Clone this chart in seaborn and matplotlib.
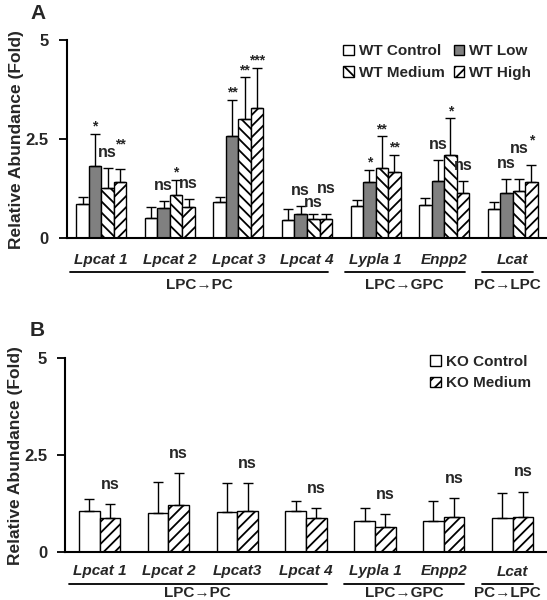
import numpy as np
import pandas as pd
import matplotlib
matplotlib.use("Agg")
import matplotlib.pyplot as plt
import matplotlib.transforms as mtransforms
import seaborn as sns

sns.set_style("ticks")
plt.rcParams['font.family'] = ['Liberation Sans', 'DejaVu Sans']
plt.rcParams['font.weight'] = 'bold'
plt.rcParams['hatch.linewidth'] = 1.3

# 数据
genes_a = ["Lpcat 1", "Lpcat 2", "Lpcat 3", "Lpcat 4", "Lypla 1", "Enpp2", "Lcat"]
genes_b = ["Lpcat 1", "Lpcat 2", "Lpcat3", "Lpcat 4", "Lypla 1", "Enpp2", "Lcat"]

groups_a = ["WT Control", "WT Low", "WT Medium", "WT High"]
wt_control = [0.86, 0.50, 0.92, 0.45, 0.81, 0.83, 0.73]
wt_low = [1.82, 0.77, 2.58, 0.60, 1.42, 1.44, 1.13]
wt_medium = [1.26, 1.10, 3.00, 0.48, 1.78, 2.10, 1.20]
wt_high = [1.42, 0.78, 3.30, 0.48, 1.68, 1.13, 1.42]
wt_control_err = [0.17, 0.29, 0.12, 0.29, 0.16, 0.18, 0.19]
wt_low_err = [0.81, 0.17, 0.92, 0.21, 0.30, 0.53, 0.37]
wt_medium_err = [0.51, 0.38, 1.06, 0.12, 0.79, 0.93, 0.30]
wt_high_err = [0.32, 0.20, 1.00, 0.14, 0.42, 0.31, 0.43]
sig_low = ["*", "ns", "**", "ns", "*", "ns", "ns"]
sig_medium = ["ns", "*", "**", "ns", "**", "*", "ns"]
sig_high = ["**", "ns", "***", "ns", "**", "ns", "*"]

groups_b = ["KO Control", "KO Medium"]
ko_control = [1.05, 1.00, 1.03, 1.06, 0.80, 0.80, 0.87]
ko_medium = [0.88, 1.21, 1.05, 0.88, 0.64, 0.90, 0.90]
ko_control_err = [0.31, 0.80, 0.74, 0.25, 0.33, 0.51, 0.66]
ko_medium_err = [0.36, 0.82, 0.73, 0.25, 0.33, 0.50, 0.66]
sig_ko = ["ns"] * 7

# 代谢途径分组
pathways = ["LPC→PC", "LPC→GPC", "PC→LPC"]
pathway_span = [(0, 3), (4, 5), (6, 6)]

df_a = pd.DataFrame({
    "gene": genes_a * 4,
    "group": np.repeat(groups_a, len(genes_a)),
    "value": wt_control + wt_low + wt_medium + wt_high,
})
df_b = pd.DataFrame({
    "gene": genes_b * 2,
    "group": np.repeat(groups_b, len(genes_b)),
    "value": ko_control + ko_medium,
})

fig = plt.figure(figsize=(5.47, 6.0), dpi=100)
ax_a = fig.add_axes([0.1225, 0.603, 0.8775, 0.33])
ax_b = fig.add_axes([0.119, 0.08, 0.881, 0.323])

# 显著性标记的大致高度（数据单位）
mark_h = {"ns": 0.25, "*": 0.18, "**": 0.18, "***": 0.18}


def place_marks(ax, xs_all, tops_all, sigs_all, ns_pad, star_pad):
    # 同一基因内相邻标记重叠时上下错开
    n_genes = len(xs_all[0])
    for g in range(n_genes):
        prev = None
        for xs, tops, sig in zip(xs_all, tops_all, sigs_all):
            s = sig[g]
            c = tops[g] + (ns_pad if s == "ns" else star_pad)
            if prev is not None:
                pc, ps = prev
                thr = (mark_h[ps] + mark_h[s]) / 2 + 0.05
                if abs(c - pc) < thr:
                    if c < pc and pc - thr >= tops[g] + 0.22:
                        c = pc - thr
                    else:
                        c = pc + thr + 0.06
            base = c - (0.1 if s == "ns" else 0.2)
            ax.text(xs[g], base, s, ha="center", va="baseline",
                    fontsize=11.5 if s == "ns" else 10, fontweight="bold")
            prev = (c, s)


def draw_panel(ax, df, groups, colors, hatches, errs, sigs, ns_pad, star_pad,
               width, tick_pad, line_y, label_y, legend_order, legend_anchor,
               ncol):
    sns.barplot(data=df, x="gene", y="value", hue="group", hue_order=groups,
                palette=colors, edgecolor="black", linewidth=1.0, width=width,
                errorbar=None, legend=False, ax=ax)
    bars = list(ax.containers)
    xs_all, tops_all, sigs_all = [], [], []
    for cont, hatch, err, sig in zip(bars, hatches, errs, sigs):
        xs = [p.get_x() + p.get_width() / 2 for p in cont]
        hs = [p.get_height() for p in cont]
        for p in cont:
            p.set_hatch(hatch)
        ax.errorbar(xs, hs, yerr=[np.zeros(len(err)), err], fmt="none",
                    ecolor="black", elinewidth=1.0, capsize=3.5, capthick=1.0,
                    zorder=1)
        if sig is not None:
            xs_all.append(xs)
            tops_all.append([h + e for h, e in zip(hs, err)])
            sigs_all.append(sig)
    place_marks(ax, xs_all, tops_all, sigs_all, ns_pad, star_pad)

    ax.set_ylim(0, 5)
    ax.set_xlim(-0.5, 6.5)
    ax.set_yticks([0, 2.5, 5])
    ax.set_yticklabels(["0", "2.5", "5"], fontsize=12, fontweight="bold")
    ax.set_xlabel("")
    ax.set_ylabel("Relative Abundance (Fold)", fontsize=12.5,
                  fontweight="bold", labelpad=1)
    ax.tick_params(axis="y", length=6, width=1.3, pad=7, color="black")
    ax.tick_params(axis="x", length=0, pad=tick_pad)
    for lab in ax.get_xticklabels():
        lab.set_fontstyle("italic")
        lab.set_fontweight("bold")
        lab.set_fontsize(11)
    sns.despine(ax=ax)
    for side in ["left", "bottom"]:
        ax.spines[side].set_linewidth(1.5)
        ax.spines[side].set_color("black")

    trans = mtransforms.blended_transform_factory(ax.transData, ax.transAxes)
    for name, (i0, i1) in zip(pathways, pathway_span):
        x0, x1 = i0 - 0.45, i1 + 0.3
        ax.plot([x0, x1], [line_y, line_y], color="black", lw=1.3,
                transform=trans, clip_on=False)
        ax.text((x0 + x1) / 2, label_y, name, transform=trans, ha="center",
                va="center", fontsize=11, fontweight="bold")

    handles = [bars[i] for i in legend_order]
    labels = [groups[i] for i in legend_order]
    ax.legend(handles, labels, ncol=ncol, frameon=False, loc="upper left",
              bbox_to_anchor=legend_anchor, handlelength=0.7,
              handleheight=0.7, handletextpad=0.3, columnspacing=0.6,
              labelspacing=0.5, borderaxespad=0,
              prop={"size": 11, "weight": "bold"})


draw_panel(ax_a, df_a, groups_a, ["white", "#808080", "white", "white"],
           ["", "", "\\\\\\", "///"],
           [wt_control_err, wt_low_err, wt_medium_err, wt_high_err],
           [None, sig_low, sig_medium, sig_high], 0.38, 0.28, 0.73, 11,
           -0.172, -0.237, [0, 2, 1, 3], (0.563, 1.01), 2)

draw_panel(ax_b, df_b, groups_b, ["white", "white"], ["", "///"],
           [ko_control_err, ko_medium_err], [None, sig_ko], 0.49, 0.4, 0.6, 9,
           -0.163, -0.213, [0, 1], (0.745, 1.05), 1)

fig.text(0.055, 0.978, "A", fontsize=15, fontweight="bold", va="center")
fig.text(0.055, 0.45, "B", fontsize=15, fontweight="bold", va="center")

fig.savefig("out.png", dpi=100)
